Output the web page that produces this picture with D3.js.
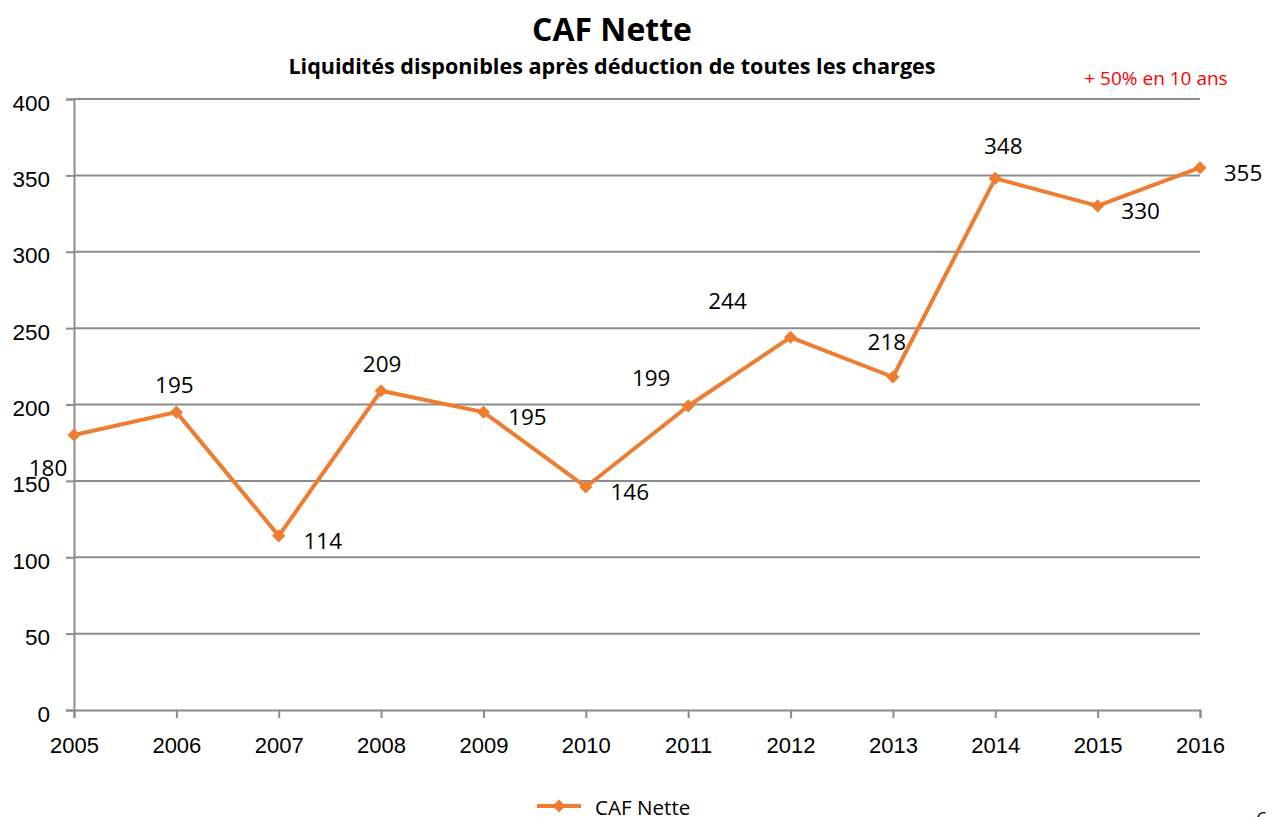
<!DOCTYPE html>
<html>
<head>
<meta charset="utf-8">
<script src="https://cdn.jsdelivr.net/npm/d3@7/dist/d3.min.js"></script>
<style>
  body { margin: 0; background: #fff; }
  svg { display: block; font-family: "Open Sans", "Noto Sans", sans-serif; }
</style>
</head>
<body>
<div id="chart"></div>
<script>
// data
var years  = ["2005", "2006", "2007", "2008", "2009", "2010", "2011", "2012", "2013", "2014", "2015", "2016"];
var cafNette = [180, 195, 114, 209, 195, 146, 199, 244, 218, 348, 330, 355];
var yTicks = [0, 50, 100, 150, 200, 250, 300, 350, 400];

// where each value label sits, relative to its point
var labelOffset = [
  [-26, 40], [-2, -20], [44, 12], [1, -20], [44, 12], [44, 12],
  [-37, -21], [-63, -29], [-6, -28], [8, -25], [43, 12], [43, 12]
];

var width = 1278, height = 817;
var margin = { top: 99, right: 78, bottom: 107, left: 74 };

var svg = d3.select("#chart").append("svg")
  .attr("width", width)
  .attr("height", height);

var x = d3.scalePoint()
  .domain(years)
  .range([margin.left, width - margin.right]);

var y = d3.scaleLinear()
  .domain([0, 400])
  .range([height - margin.bottom, margin.top]);

var orange = "#ED7D31";
var grey = "#8c8c8c";

// gridlines
svg.append("g")
  .selectAll("line")
  .data(yTicks.filter(function(d) { return d > 0; }))
  .enter().append("line")
  .attr("x1", margin.left)
  .attr("x2", width - margin.right)
  .attr("y1", function(d) { return y(d); })
  .attr("y2", function(d) { return y(d); })
  .attr("stroke", grey)
  .attr("stroke-width", 2);

// y axis
var yAxis = svg.append("g")
  .attr("transform", "translate(" + margin.left + ",0)")
  .call(d3.axisLeft(y).tickValues(yTicks).tickSize(8).tickPadding(16));
yAxis.select(".domain").attr("stroke", grey).attr("stroke-width", 2);
yAxis.selectAll(".tick line").attr("stroke", grey).attr("stroke-width", 2);
yAxis.selectAll(".tick text")
  .attr("fill", "#000")
  .style("font-size", "22.5px")
  .attr("dy", "0.49em");

// x axis
var xAxis = svg.append("g")
  .attr("transform", "translate(0," + y(0) + ")")
  .call(d3.axisBottom(x).tickSizeOuter(0).tickSize(8).tickPadding(19));
xAxis.select(".domain").attr("stroke", grey).attr("stroke-width", 2);
xAxis.selectAll(".tick line").attr("stroke", grey).attr("stroke-width", 2);
xAxis.selectAll(".tick text")
  .attr("fill", "#000")
  .style("font-size", "22px");

// the line
var line = d3.line()
  .x(function(d, i) { return x(years[i]); })
  .y(function(d) { return y(d); });

svg.append("path")
  .datum(cafNette)
  .attr("fill", "none")
  .attr("stroke", orange)
  .attr("stroke-width", 4)
  .attr("stroke-linejoin", "round")
  .attr("d", line);

var diamond = d3.symbol().type(d3.symbolDiamond2).size(110);

svg.append("g")
  .selectAll("path")
  .data(cafNette)
  .enter().append("path")
  .attr("d", diamond)
  .attr("fill", orange)
  .attr("transform", function(d, i) { return "translate(" + x(years[i]) + "," + y(d) + ")"; });

// value labels
svg.append("g")
  .selectAll("text")
  .data(cafNette)
  .enter().append("text")
  .attr("x", function(d, i) { return x(years[i]) + labelOffset[i][0]; })
  .attr("y", function(d, i) { return y(d) + labelOffset[i][1] + 1; })
  .attr("text-anchor", "middle")
  .style("font-size", "22.5px")
  .attr("fill", "#000")
  .text(function(d) { return d; });

// titles
svg.append("text")
  .attr("x", 612).attr("y", 41)
  .attr("text-anchor", "middle")
  .style("font-size", "32px")
  .style("font-weight", "bold")
  .text("CAF Nette");

svg.append("text")
  .attr("x", 612).attr("y", 74)
  .attr("text-anchor", "middle")
  .style("font-size", "21.6px")
  .style("font-weight", "bold")
  .text("Liquidités disponibles  après déduction de toutes les charges");

svg.append("text")
  .attr("x", 1156).attr("y", 85)
  .attr("text-anchor", "middle")
  .style("font-size", "19px")
  .attr("fill", "#ff0000")
  .text("+ 50% en 10 ans");

// legend
var legend = svg.append("g").attr("transform", "translate(537,806)");
legend.append("line")
  .attr("x1", 0).attr("x2", 44)
  .attr("stroke", orange)
  .attr("stroke-width", 4);
legend.append("path")
  .attr("d", diamond)
  .attr("fill", orange)
  .attr("transform", "translate(22,0)");
legend.append("text")
  .attr("x", 58).attr("y", 9)
  .style("font-size", "20.6px")
  .text("CAF Nette");

// page number, cut off at the bottom edge
svg.append("text")
  .attr("x", 1256).attr("y", 826)
  .style("font-size", "20px")
  .text("6");
</script>
</body>
</html>
